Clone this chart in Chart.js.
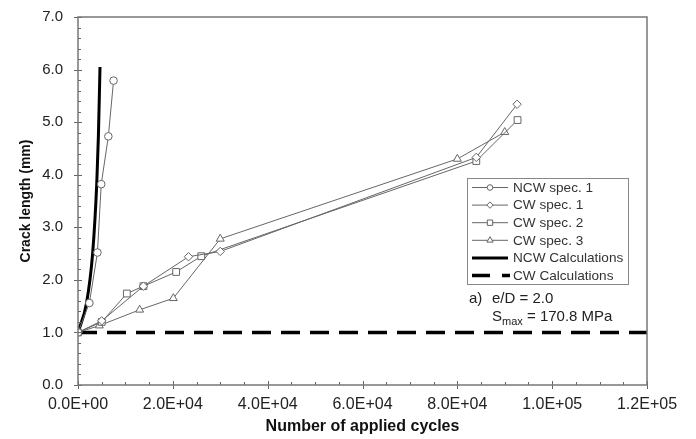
<!DOCTYPE html>
<html lang="en">
<head>
    <meta charset="UTF-8">
    <title>Crack length vs. number of applied cycles</title>
    <script src="https://cdn.jsdelivr.net/npm/chart.js"></script>
    <style>
        html, body { margin: 0; padding: 0; background: #fff; }
        #chartBox { width: 696px; height: 439px; }
    </style>
</head>
<body>
    <div id="chartBox">
        <canvas id="crackChart"></canvas>
    </div>
    <script>
        // values
        const ncwSpec1Cycles = [0, 2400, 4100, 4900, 6400, 7500];
        const ncwSpec1Crack = [1.0, 1.56, 2.52, 3.82, 4.73, 5.79];
        const cwSpec1Cycles = [0, 5000, 13800, 23300, 30000, 84000, 92600];
        const cwSpec1Crack = [1.0, 1.22, 1.88, 2.44, 2.54, 4.33, 5.34];
        const cwSpec2Cycles = [0, 5000, 10300, 13800, 20700, 26000, 84000, 92700];
        const cwSpec2Crack = [1.0, 1.2, 1.74, 1.88, 2.15, 2.45, 4.26, 5.04];
        const cwSpec3Cycles = [0, 4500, 13000, 20100, 30000, 80000, 90000];
        const cwSpec3Crack = [1.0, 1.13, 1.43, 1.65, 2.78, 4.30, 4.81];
        const ncwCalcCycles = [0, 1800, 3100, 3950, 4300, 4640];
        const ncwCalcCrack = [1.0, 1.56, 2.52, 3.82, 4.73, 6.05];
        const cwCalcCycles = [0, 120000];
        const cwCalcCrack = [1.0, 1.0];

        const seriesLabels = ['NCW spec. 1', 'CW spec. 1', 'CW spec. 2', 'CW spec. 3', 'NCW Calculations', 'CW Calculations'];
        const yTicks = [0, 1, 2, 3, 4, 5, 6, 7];
        const xTicks = [0, 20000, 40000, 60000, 80000, 100000, 120000];

        function toPoints(xs, ys) {
            return xs.map((x, i) => ({ x: x, y: ys[i] }));
        }

        function sciLabel(v) {
            if (v === 0) return '0.0E+00';
            const e = Math.floor(Math.log10(v));
            const m = v / Math.pow(10, e);
            return m.toFixed(1) + 'E+' + String(e).padStart(2, '0');
        }

        const specStyle = (style, r) => ({
            showLine: true,
            borderColor: '#666',
            borderWidth: 1,
            pointStyle: style,
            pointRadius: r,
            pointBorderColor: '#666',
            pointBackgroundColor: '#fff',
            pointBorderWidth: 1
        });

        function noScalePadding(s) {
            s.paddingTop = 0;
            s.paddingBottom = 0;
            s.paddingLeft = 0;
            s.paddingRight = 0;
        }

        // small tick marks drawn inside the plot, plus the box frame
        const frameAndTicks = {
            id: 'frameAndTicks',
            afterDatasetsDraw(chart) {
                const ctx = chart.ctx;
                const a = chart.chartArea;
                const xs = chart.scales.x, ys = chart.scales.y;
                ctx.save();
                ctx.strokeStyle = '#666';
                ctx.lineWidth = 1;
                ctx.beginPath();
                for (let v = 0; v <= 7.0001; v += 0.2) {
                    const py = Math.round(ys.getPixelForValue(v)) + 0.5;
                    const major = Math.abs(v - Math.round(v)) < 1e-6;
                    ctx.moveTo(a.left - (major ? 4 : 0), py);
                    ctx.lineTo(a.left + (major ? 4 : 3), py);
                }
                for (let v = 0; v <= 120000; v += 5000) {
                    const px = Math.round(xs.getPixelForValue(v)) + 0.5;
                    const major = v % 20000 === 0;
                    ctx.moveTo(px, a.bottom + (major ? 4 : 0));
                    ctx.lineTo(px, a.bottom - (major ? 4 : 3));
                }
                ctx.stroke();
                ctx.lineWidth = 1.5;
                ctx.strokeStyle = '#777';
                ctx.strokeRect(a.left, a.top, a.right - a.left, a.bottom - a.top);
                ctx.restore();
            }
        };

        // boxed legend inside the plot and the test condition note
        const boxLegend = {
            id: 'boxLegend',
            afterDraw(chart) {
                const ctx = chart.ctx;
                const bx = 467, by = 178, bw = 161, bh = 106;
                ctx.save();
                ctx.fillStyle = '#fff';
                ctx.fillRect(bx, by, bw, bh);
                ctx.strokeStyle = '#888';
                ctx.lineWidth = 1;
                ctx.strokeRect(bx + 0.5, by + 0.5, bw, bh);
                ctx.font = '13.6px "Liberation Sans", Arial, sans-serif';
                ctx.textBaseline = 'middle';
                chart.data.datasets.forEach((ds, i) => {
                    const y = by + 9.5 + i * 17.6;
                    ctx.save();
                    ctx.strokeStyle = ds.borderColor;
                    ctx.lineWidth = ds.borderWidth;
                    ctx.setLineDash(ds.borderDash || []);
                    ctx.beginPath();
                    if (ds.borderDash) {
                        ctx.moveTo(472, y); ctx.lineTo(490, y);
                        ctx.moveTo(502, y); ctx.lineTo(510, y);
                        ctx.setLineDash([]);
                    } else {
                        ctx.moveTo(472, y); ctx.lineTo(508, y);
                    }
                    ctx.stroke();
                    ctx.restore();
                    if (ds.pointRadius > 0) {
                        ctx.save();
                        ctx.strokeStyle = ds.pointBorderColor;
                        ctx.fillStyle = ds.pointBackgroundColor;
                        ctx.lineWidth = 1;
                        Chart.helpers.drawPoint(ctx, { pointStyle: ds.pointStyle, radius: ds.pointRadius - 1, borderWidth: 1 }, 490, y);
                        ctx.restore();
                    }
                    ctx.fillStyle = '#333';
                    ctx.textAlign = 'left';
                    ctx.fillText(ds.label, 513, y + 0.5);
                });

                ctx.fillStyle = '#222';
                ctx.font = '15px "Liberation Sans", Arial, sans-serif';
                ctx.fillText('a)', 469, 299);
                ctx.fillText('e/D = 2.0', 492, 299);
                ctx.fillText('S', 492, 317);
                const sw = ctx.measureText('S').width;
                ctx.font = '11px "Liberation Sans", Arial, sans-serif';
                ctx.fillText('max', 492 + sw, 322);
                const mw = ctx.measureText('max').width;
                ctx.font = '15px "Liberation Sans", Arial, sans-serif';
                ctx.fillText(' = 170.8 MPa', 492 + sw + mw, 317);
                ctx.restore();
            }
        };

        const ctx = document.getElementById('crackChart').getContext('2d');
        new Chart(ctx, {
            type: 'scatter',
            data: {
                datasets: [
                    Object.assign({ label: seriesLabels[0], data: toPoints(ncwSpec1Cycles, ncwSpec1Crack) }, specStyle('circle', 3.8)),
                    Object.assign({ label: seriesLabels[1], data: toPoints(cwSpec1Cycles, cwSpec1Crack) }, specStyle('rectRot', 4.2)),
                    Object.assign({ label: seriesLabels[2], data: toPoints(cwSpec2Cycles, cwSpec2Crack) }, specStyle('rect', 4.8)),
                    Object.assign({ label: seriesLabels[3], data: toPoints(cwSpec3Cycles, cwSpec3Crack) }, specStyle('triangle', 4.6)),
                    {
                        label: seriesLabels[4],
                        data: toPoints(ncwCalcCycles, ncwCalcCrack),
                        showLine: true,
                        borderColor: '#000',
                        borderWidth: 3,
                        pointRadius: 0,
                        cubicInterpolationMode: 'monotone'
                    },
                    {
                        label: seriesLabels[5],
                        data: toPoints(cwCalcCycles, cwCalcCrack),
                        showLine: true,
                        borderColor: '#000',
                        borderWidth: 3.4,
                        borderDash: [19, 10],
                        pointRadius: 0
                    }
                ]
            },
            options: {
                responsive: true,
                maintainAspectRatio: false,
                animation: false,
                layout: { padding: { top: 17, right: 49, left: 0, bottom: 0 } },
                plugins: {
                    legend: { display: false },
                    tooltip: { enabled: false }
                },
                scales: {
                    x: {
                        type: 'linear',
                        min: 0,
                        max: 120000,
                        afterFit: s => { s.height = 54; noScalePadding(s); },
                        afterBuildTicks: s => { s.ticks = xTicks.map(v => ({ value: v })); },
                        grid: { display: false, drawTicks: false },
                        border: { display: false },
                        ticks: {
                            padding: 10,
                            color: '#222',
                            font: { family: '"Liberation Sans", Arial, sans-serif', size: 16 },
                            maxRotation: 0,
                            autoSkip: false,
                            callback: v => sciLabel(v)
                        },
                        title: {
                            display: true,
                            text: 'Number of applied cycles',
                            color: '#111',
                            font: { family: '"Liberation Sans", Arial, sans-serif', size: 16, weight: 'bold' },
                            padding: { top: 0, bottom: 3 }
                        }
                    },
                    y: {
                        min: 0,
                        max: 7,
                        afterFit: s => { s.width = 78; noScalePadding(s); },
                        afterBuildTicks: s => { s.ticks = yTicks.map(v => ({ value: v })); },
                        grid: { display: false, drawTicks: false },
                        border: { display: false },
                        ticks: {
                            padding: 15,
                            color: '#222',
                            font: { family: '"Liberation Sans", Arial, sans-serif', size: 15 },
                            callback: v => v.toFixed(1)
                        },
                        title: {
                            display: true,
                            text: 'Crack length (mm)',
                            color: '#111',
                            font: { family: '"Liberation Sans", Arial, sans-serif', size: 14, weight: 'bold' },
                            padding: { top: 18, bottom: 4 }
                        }
                    }
                }
            },
            plugins: [frameAndTicks, boxLegend]
        });
    </script>
</body>
</html>
